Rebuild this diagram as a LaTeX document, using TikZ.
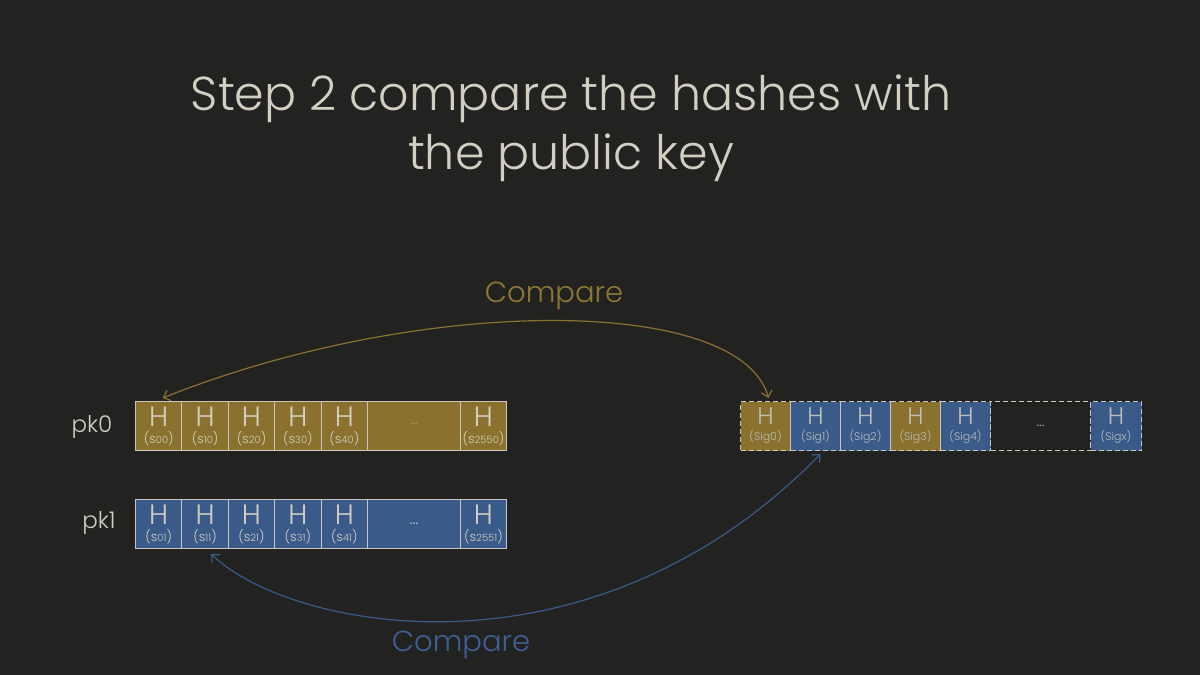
\documentclass[tikz,border=0pt]{standalone}
\usepackage{fontspec}
\setmainfont{Poppins}[UprightFont={* Light}]
\usetikzlibrary{arrows.meta}
\definecolor{bg}{HTML}{222221}
\definecolor{gold}{HTML}{8A722E}
\definecolor{blu}{HTML}{3A5A8A}
\definecolor{goldtxt}{HTML}{8F7833}
\definecolor{blutxt}{HTML}{3F5F95}
\definecolor{ink}{HTML}{D2CEC2}
\definecolor{rule}{HTML}{C9C7BE}
\definecolor{sigink}{HTML}{BDBDBA}
\newcommand\fsz[1]{\fontsize{#1}{#1}\selectfont}
\tikzset{
  cell/.style={rectangle, draw=rule, line width=1pt, minimum height=49pt,
    inner sep=0pt, anchor=north west, align=center, text=ink},
  pkcell/.style={cell, fill=#1},
  sigcell/.style={rectangle, draw=rule, line width=1pt, dash pattern=on 5pt off 3pt,
    minimum height=49pt, inner sep=0pt, anchor=north west, align=center, text=sigink},
  arc/.style={line width=1.2pt, {Straight Barb[length=6pt,width=11pt]}-{Straight Barb[length=6pt,width=11pt]}},
}
\newcommand\hs[1]{{\fsz{28}H}\\[4pt]{\fsz{13}(s{\fsz{10}#1})}}
\newcommand\hsig[1]{{\fsz{24}H}\\[4pt]{\fsz{11}(#1)}}
\begin{document}
\begin{tikzpicture}[x=1pt,y=-1pt]
\fill[bg] (0,0) rectangle (1200,675);
\useasboundingbox (0,0) rectangle (1200,675);

% title
\node[text=ink, align=center, font=\fsz{47.5}] (title) at (571,128)
  {Step 2 compare the hashes with\\[10pt]the public key};

% row labels
\node[text=ink, font=\fsz{23}] (pk0) at (92,427) {pk0};
\node[text=ink, font=\fsz{23}] (pk1) at (99,523) {pk1};

% first public key row
\node[pkcell=gold, minimum width=46.4pt] (a0) at (135,401) {\hs{00}};
\node[pkcell=gold, minimum width=46.4pt] (a1) at (181.4,401) {\hs{10}};
\node[pkcell=gold, minimum width=46.4pt] (a2) at (227.8,401) {\hs{20}};
\node[pkcell=gold, minimum width=46.4pt] (a3) at (274.2,401) {\hs{30}};
\node[pkcell=gold, minimum width=46.4pt] (a4) at (320.6,401) {\hs{40}};
\node[pkcell=gold, minimum width=93pt, text=goldtxt!50!ink, font=\fsz{13}] (a5) at (367,401) {\raisebox{4pt}{...}};
\node[pkcell=gold, minimum width=46pt] (a6) at (460,401) {\hs{2550}};

% second public key row
\node[pkcell=blu, minimum width=46.4pt] (b0) at (135,499) {\hs{01}};
\node[pkcell=blu, minimum width=46.4pt] (b1) at (181.4,499) {\hs{11}};
\node[pkcell=blu, minimum width=46.4pt] (b2) at (227.8,499) {\hs{21}};
\node[pkcell=blu, minimum width=46.4pt] (b3) at (274.2,499) {\hs{31}};
\node[pkcell=blu, minimum width=46.4pt] (b4) at (320.6,499) {\hs{41}};
\node[pkcell=blu, minimum width=93pt, font=\fsz{16}] (b5) at (367,499) {...};
\node[pkcell=blu, minimum width=46pt] (b6) at (460,499) {\hs{2551}};

% signature row
\node[sigcell, fill=gold, minimum width=50pt] (g0) at (740,401) {\hsig{Sig0}};
\node[sigcell, fill=blu, minimum width=50pt] (g1) at (790,401) {\hsig{Sig1}};
\node[sigcell, fill=blu, minimum width=50pt] (g2) at (840,401) {\hsig{Sig2}};
\node[sigcell, fill=gold, minimum width=50pt] (g3) at (890,401) {\hsig{Sig3}};
\node[sigcell, fill=blu, minimum width=50pt] (g4) at (940,401) {\hsig{Sig4}};
\node[sigcell, minimum width=100pt, font=\fsz{14}] (g5) at (990,401) {...};
\node[sigcell, fill=blu, minimum width=51pt] (g6) at (1090,401) {\hsig{Sigx}};

% comparison arcs (paper y points up, so a positive yshift lifts a point)
\node[text=goldtxt, font=\fsz{29}] (cmp0) at (554,296) {Compare};
\draw[arc, draw=gold] ([xshift=4pt,yshift=3pt]a0.north) .. controls (420,295) and (740,295) .. ([xshift=3pt,yshift=3pt]g0.north);

\node[text=blutxt, font=\fsz{29}] (cmp1) at (461,645) {Compare};
\draw[arc, draw=blu] ([xshift=6pt,yshift=-5pt]b1.south) .. controls (290,630) and (590,690) .. ([xshift=5pt,yshift=-3pt]g1.south);
\end{tikzpicture}
\end{document}
